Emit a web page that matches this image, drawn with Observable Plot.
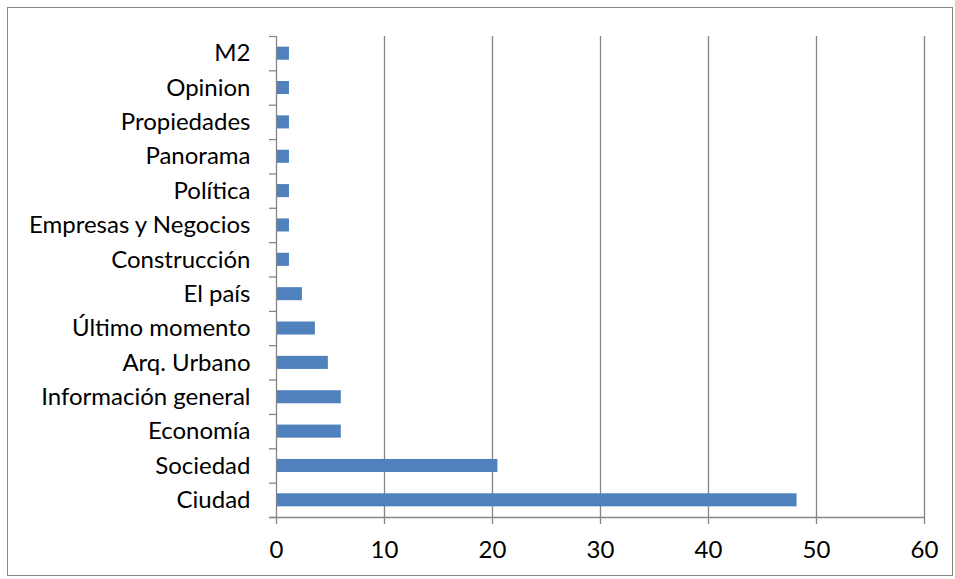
<!DOCTYPE html>
<html>
<head>
<meta charset="utf-8">
<script src="https://cdn.jsdelivr.net/npm/d3@7"></script>
<script src="https://cdn.jsdelivr.net/npm/@observablehq/plot@0.6"></script>
<style>
  body { margin: 0; background: #fff; }
  #wrap { position: relative; width: 955px; height: 579px; }
  #border { position: absolute; left: 7px; top: 7px; width: 944px; height: 567px; border: 1px solid #868686; pointer-events: none; }
</style>
</head>
<body>
<div id="wrap"><div id="border"></div></div>
<script>
// categories listed top to bottom
const categories = ["M2", "Opinion", "Propiedades", "Panorama", "Política", "Empresas y Negocios", "Construcción", "El país", "Último momento", "Arq. Urbano", "Información general", "Economía", "Sociedad", "Ciudad"];
const values = [1.2, 1.2, 1.2, 1.2, 1.2, 1.2, 1.2, 2.4, 3.6, 4.8, 6.0, 6.0, 20.5, 48.2];
const xTicks = [0, 10, 20, 30, 40, 50, 60];

const data = categories.map((c, i) => ({category: c, value: values[i], index: i}));
const n = categories.length;
const barPad = 0.31;

const font = "Lato, 'Open Sans', sans-serif";
const fs = 24;
const chart = Plot.plot({
  width: 955,
  height: 579,
  marginLeft: 276,
  marginRight: 31,
  marginTop: 36,
  marginBottom: 62,
  style: {fontFamily: font, fontSize: fs + "px", color: "#000", background: "transparent", overflow: "visible"},
  x: {domain: [0, 60]},
  y: {domain: [0, n], reverse: true},
  marks: [
    Plot.ruleX(xTicks.filter(t => t > 0), {stroke: "#868686", strokeWidth: 1.3}),
    Plot.rectX(data, {x1: 0, x2: "value", y1: d => d.index + barPad, y2: d => d.index + 1 - barPad, fill: "#4F81BD"}),
    Plot.ruleX([0], {stroke: "#868686", strokeWidth: 1.3}),
    Plot.ruleY([n], {x1: -0.65, x2: 60, stroke: "#868686", strokeWidth: 1.3}),
    Plot.axisX({ticks: xTicks, tickSize: 7, tickPadding: 16, stroke: "#868686", strokeWidth: 1.3, label: null, fill: "#000", fontSize: fs}),
    Plot.axisY({ticks: d3.range(n + 1), tickSize: 7, tickFormat: () => "", stroke: "#868686", strokeWidth: 1.3, label: null}),
    Plot.axisY({ticks: d3.range(n).map(i => i + 0.5), tickSize: 0, tickPadding: 26, tickFormat: t => categories[Math.floor(t)], label: null, fill: "#000", fontSize: fs})
  ]
});
document.getElementById("wrap").prepend(chart);
</script>
</body>
</html>
